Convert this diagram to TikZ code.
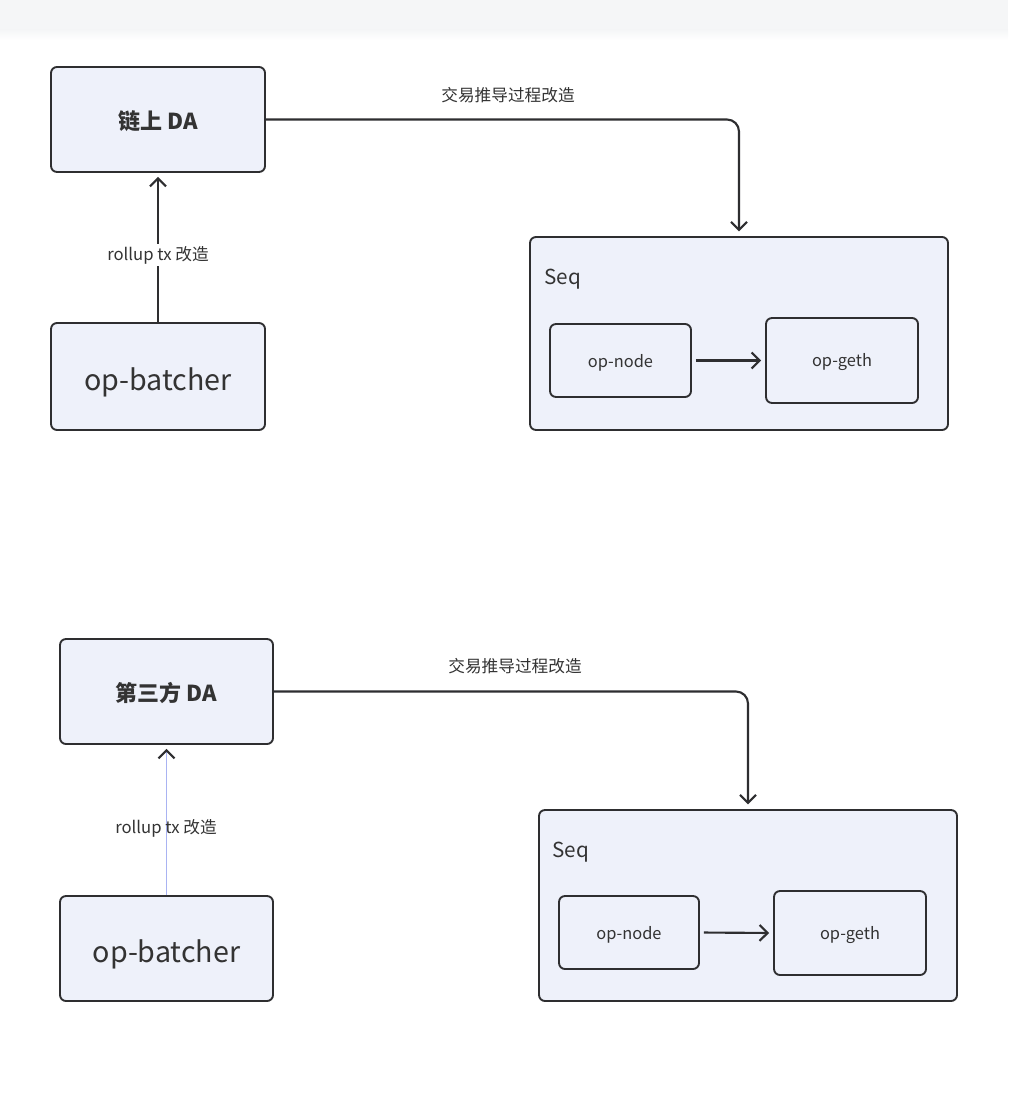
\documentclass[tikz,border=0pt]{standalone}
\usepackage{fontspec}
\setmainfont{Noto Sans CJK SC}
\usetikzlibrary{arrows.meta}
\definecolor{boxfill}{HTML}{EEF1FA}
\definecolor{boxline}{HTML}{2E2E30}
\definecolor{txt}{HTML}{333333}
\definecolor{selblue}{HTML}{A9B3F2}
\definecolor{barbg}{HTML}{F5F6F7}
\tikzset{
  box/.style={draw=boxline, fill=boxfill, rounded corners=4.5pt, line width=1.4pt, inner sep=0pt},
  boxtext/.style={text=txt, inner sep=0pt},
  arr/.style={draw=boxline, line width=1.6pt, -{Straight Barb[length=6pt,width=12pt,line width=1.6pt]}},
  lbl/.style={text=txt, font=\fontsize{12.5pt}{15pt}\selectfont, inner sep=1.5pt},
  dalbl/.style={boxtext, font=\fontsize{16.5pt}{19pt}\selectfont\bfseries},
  batchlbl/.style={boxtext, font=\fontsize{21.5pt}{25pt}\selectfont},
  innerlbl/.style={boxtext, font=\fontsize{12.3pt}{15pt}\selectfont},
  seqlbl/.style={text=txt, font=\fontsize{15.5pt}{18pt}\selectfont, anchor=west, inner sep=0pt}
}
\begin{document}
\begin{tikzpicture}[x=0.75pt,y=-0.75pt]
\fill[white] (0,0) rectangle (1008,1094);
\useasboundingbox (0,0) rectangle (1008,1094);
\fill[barbg] (0,0) rectangle (1008,30);
\shade[top color=barbg, bottom color=white] (0,30) rectangle (1008,40);

% ---------- top diagram ----------
\node[box, minimum width=160.5pt, minimum height=78.75pt] (da1) at (158,119.5) {};
\node[dalbl] (da1t) at ([yshift=-1.5pt]da1.center) {链上 DA};
\node[box, minimum width=160.5pt, minimum height=80.25pt] (b1) at (158,376.5) {};
\node[batchlbl] (b1t) at ([yshift=-4.5pt]b1.center) {op-batcher};
\node[box, minimum width=313.5pt, minimum height=144.75pt] (seq1) at (739,333.5) {};
\node[seqlbl] (seqt1) at (544,279) {Seq};
\node[box, minimum width=105.75pt, minimum height=54.75pt] (on1) at (620.5,360.5) {};
\node[innerlbl] (on1t) at ([yshift=-1.5pt]on1.center) {op-node};
\node[box, minimum width=114pt, minimum height=63.75pt] (og1) at (842,360.5) {};
\node[innerlbl] (og1t) at ([yshift=-1.5pt]og1.center) {op-geth};

\draw[arr, shorten >=3pt] (b1.north) -- (da1.south);
\node[lbl, fill=white] (l1) at (158,255) {rollup tx 改造};
\draw[arr, rounded corners=9pt, shorten >=3.5pt] (da1.east) -| (seq1.north);
\node[lbl] (t1) at (508,95) {交易推导过程改造};
\draw[arr, shorten <=3pt, shorten >=3pt] (on1.east) -- (og1.west);

% ---------- bottom diagram ----------
\node[box, minimum width=159.75pt, minimum height=78.75pt] (da2) at (166.5,691.5) {};
\node[dalbl] (da2t) at ([yshift=-1.5pt]da2.center) {第三方 DA};
\node[box, minimum width=159.75pt, minimum height=78.75pt] (b2) at (166.5,948.5) {};
\node[batchlbl] (b2t) at ([yshift=-4.5pt]b2.center) {op-batcher};
\node[box, minimum width=313.5pt, minimum height=143.25pt] (seq2) at (748,905.5) {};
\node[seqlbl] (seqt2) at (552,852) {Seq};
\node[box, minimum width=105pt, minimum height=54.75pt] (on2) at (629,932.5) {};
\node[innerlbl] (on2t) at ([yshift=-1.5pt]on2.center) {op-node};
\node[box, minimum width=114pt, minimum height=63pt] (og2) at (850,933) {};
\node[innerlbl] (og2t) at ([yshift=-1.5pt]og2.center) {op-geth};

\draw[draw=selblue, line width=1pt, -{Straight Barb[length=6pt,width=12pt,line width=1.6pt,color=boxline]}, shorten >=3pt] (b2.north) -- (da2.south);
\node[lbl] (l2) at (166,828) {rollup tx 改造};
\draw[arr, rounded corners=9pt, shorten >=3.5pt] (da2.east) -| (seq2.north);
\node[lbl] (t2) at (515,666) {交易推导过程改造};
\draw[arr, shorten <=3pt, shorten >=3pt] (on2.east) -- (og2.west);
\end{tikzpicture}
\end{document}
